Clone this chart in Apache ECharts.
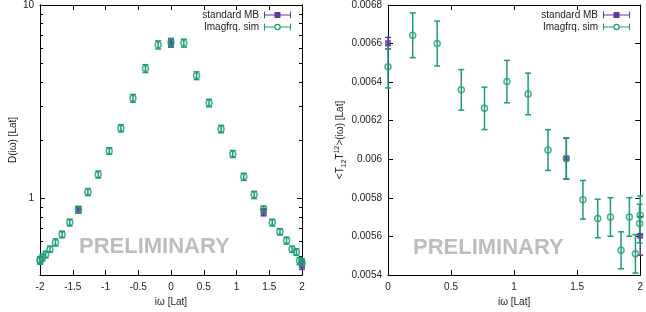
<!DOCTYPE html>
<html>
<head>
<meta charset="utf-8">
<script src="https://cdn.jsdelivr.net/npm/echarts@6/dist/echarts.min.js"></script>
<style>
html, body { margin: 0; padding: 0; background: #fff; }
#chart { width: 646px; height: 312px; }
</style>
</head>
<body>
<div id="chart"></div>
<script>
// left panel: D(iw), full range -2..2
var simW = [-2, -1.995, -1.962, -1.914, -1.848, -1.764, -1.663, -1.546, -1.414, -1.269, -1.111, -0.943, -0.765, -0.581, -0.390, -0.196,
            0, 0.196, 0.390, 0.581, 0.765, 0.943, 1.111, 1.269, 1.414, 1.546, 1.663, 1.764, 1.848, 1.914, 1.962, 1.995, 2];
var simD = [0.475, 0.478, 0.493, 0.511, 0.544, 0.590, 0.649, 0.748, 0.870, 1.076, 1.326, 1.754, 2.30, 3.29, 4.69, 6.22,
            6.40, 6.35, 4.31, 3.11, 2.28, 1.694, 1.29, 1.04, 0.876, 0.748, 0.670, 0.603, 0.544, 0.526, 0.473, 0.466, 0.462];
var simDErr = [0.02, 0.02, 0.02, 0.02, 0.02, 0.025, 0.025, 0.03, 0.035, 0.045, 0.055, 0.07, 0.10, 0.15, 0.22, 0.30,
               0.32, 0.30, 0.20, 0.14, 0.10, 0.07, 0.055, 0.045, 0.035, 0.03, 0.025, 0.025, 0.02, 0.02, 0.02, 0.02, 0.02];
var mbW = [-1.414, 0, 1.414, 2];
var mbD = [0.870, 6.35, 0.845, 0.448];
var mbDErr = [0.035, 0.30, 0.035, 0.02];

// right panel: <T12T12>(iw), 0..2
var simWPos = [0, 0.196, 0.390, 0.581, 0.765, 0.943, 1.111, 1.269, 1.414, 1.546, 1.663, 1.764, 1.848, 1.914, 1.962, 1.995, 2];
var simT = [0.00648, 0.006643, 0.0066, 0.00636, 0.006264, 0.006403, 0.006339, 0.006048, 0.006004, 0.00579, 0.005693,
            0.005701, 0.005528, 0.005701, 0.00551, 0.005667, 0.00571];
var simTErr = [0.00011, 0.000116, 0.000116, 0.000105, 0.00011, 0.00011, 0.000108, 0.000106, 0.000107, 0.0001, 0.0001,
               0.0001, 0.000096, 0.0001, 0.0001, 0.0001, 0.0001];
var mbWPos = [0, 1.414, 2];
var mbT = [0.006602, 0.006004, 0.005603];
var mbTErr = [0.00003, 0.000105, 0.0001];

var logMajor = [1, 10];
var logMinor = [0.4, 0.5, 0.6, 0.7, 0.8, 0.9, 2, 3, 4, 5, 6, 7, 8, 9];

var FONT = '"Liberation Sans", Arial, sans-serif';
var GREEN = '#1b9e77';
var PURPLE = '#5e3c99';

function pts(xs, ys) {
    return xs.map(function (x, i) { return [x, ys[i]]; });
}
function bars(xs, ys, es) {
    return xs.map(function (x, i) { return [x, ys[i] - es[i], ys[i] + es[i]]; });
}

function errRender(color) {
    return function (params, api) {
        var x = api.value(0);
        var a = api.coord([x, api.value(2)]);
        var b = api.coord([x, api.value(1)]);
        var st = { stroke: color, lineWidth: 1.5 };
        var c = 3;
        return {
            type: 'group',
            children: [
                { type: 'line', shape: { x1: a[0], y1: a[1], x2: b[0], y2: b[1] }, style: st },
                { type: 'line', shape: { x1: a[0] - c, y1: a[1], x2: a[0] + c, y2: a[1] }, style: st },
                { type: 'line', shape: { x1: b[0] - c, y1: b[1], x2: b[0] + c, y2: b[1] }, style: st }
            ]
        };
    };
}

function xAx(grid, pos, min, max, name) {
    var bottom = pos === 'bottom';
    return {
        type: 'value', gridIndex: grid, position: pos, min: min, max: max, interval: 0.5,
        axisLine: { show: true, onZero: false, lineStyle: { color: '#000', width: 1 } },
        axisTick: { show: true, inside: true, length: 5, lineStyle: { color: '#000' } },
        axisLabel: { show: bottom, fontSize: 10, color: '#222', margin: 7, fontFamily: FONT },
        splitLine: { show: false },
        name: bottom ? name : '', nameLocation: 'middle', nameGap: 22,
        nameTextStyle: { fontSize: 10, color: '#222', fontFamily: FONT }
    };
}

function logAx(pos, ticks, len, labels, name) {
    return {
        type: 'log', logBase: 10, gridIndex: 0, position: pos, min: 0.4, max: 10,
        axisLine: { show: true, onZero: false, lineStyle: { color: '#000', width: 1 } },
        axisTick: { show: true, inside: true, length: len, customValues: ticks, lineStyle: { color: '#000' } },
        axisLabel: { show: labels, customValues: logMajor, fontSize: 10, color: '#222', margin: 6, fontFamily: FONT },
        splitLine: { show: false },
        name: name || '', nameLocation: 'middle', nameGap: 22,
        nameTextStyle: { fontSize: 10, color: '#222', fontFamily: FONT }
    };
}

function linAx(pos, labels, name) {
    return {
        type: 'value', gridIndex: 1, position: pos, min: 0.0054, max: 0.0068, interval: 0.0002,
        axisLine: { show: true, onZero: false, lineStyle: { color: '#000', width: 1 } },
        axisTick: { show: true, inside: true, length: 5, lineStyle: { color: '#000' } },
        axisLabel: { show: labels, fontSize: 10, color: '#222', margin: 6, fontFamily: FONT },
        splitLine: { show: false },
        name: name || '', nameLocation: 'middle', nameGap: 39,
        nameTextStyle: {
            fontSize: 10, color: '#222', fontFamily: FONT,
            rich: {
                a: { fontSize: 10, fontFamily: FONT, color: '#222', lineHeight: 14, verticalAlign: 'middle' },
                sub: { fontSize: 7, fontFamily: FONT, color: '#222', lineHeight: 14, verticalAlign: 'bottom' },
                sup: { fontSize: 7, fontFamily: FONT, color: '#222', lineHeight: 14, verticalAlign: 'top' }
            }
        }
    };
}

var iconMB = 'path://M0 3H27V4H0Z M0 0H1V7H0Z M26 0H27V7H26Z M10.5 0.5H16.5V6.5H10.5Z';
var iconSim = 'path://M0 3H10.5V4H0Z M16.5 3H27V4H16.5Z M0 0H1V7H0Z M26 0H27V7H26Z ' +
    'M16.75 3.5A3.25 3.25 0 1 1 10.25 3.5A3.25 3.25 0 1 1 16.75 3.5Z ' +
    'M15.5 3.5A2 2 0 1 0 11.5 3.5A2 2 0 1 0 15.5 3.5Z';

function legendAt(right) {
    return {
        orient: 'vertical', align: 'right', right: right, top: 10, padding: 0,
        itemWidth: 27, itemHeight: 7, itemGap: 2,
        textStyle: { fontSize: 10, color: '#222', fontFamily: FONT, lineHeight: 7 },
        selectedMode: false,
        data: [
            { name: 'standard MB', icon: iconMB, itemStyle: { color: PURPLE, borderWidth: 0 } },
            { name: 'Imagfrq. sim', icon: iconSim, itemStyle: { color: GREEN, borderWidth: 0 } }
        ]
    };
}

var chart = echarts.init(document.getElementById('chart'));

var option = {
    animation: false,
    backgroundColor: '#fff',
    grid: [
        { left: 40, top: 5, width: 262, height: 271 },
        { left: 388, top: 5, width: 254, height: 271 }
    ],
    legend: [legendAt(355), legendAt(16)],
    xAxis: [
        xAx(0, 'bottom', -2, 2, 'iω [Lat]'),
        xAx(0, 'top', -2, 2),
        xAx(1, 'bottom', 0, 2, 'iω [Lat]'),
        xAx(1, 'top', 0, 2)
    ],
    yAxis: [
        logAx('left', logMajor, 5, true, 'D(iω) [Lat]'),
        logAx('right', logMajor, 5, false),
        logAx('left', logMinor, 3, false),
        logAx('right', logMinor, 3, false),
        linAx('left', true, '{a|<T}{sub|12}{a|T}{sup|12}{a|>(iω) [Lat]}'),
        linAx('right', false)
    ],
    graphic: [
        { type: 'text', left: 79, top: 236, style: { text: 'PRELIMINARY', font: 'bold 22px ' + FONT, fill: '#bdbdbd' } },
        { type: 'text', left: 413, top: 237, style: { text: 'PRELIMINARY', font: 'bold 22px ' + FONT, fill: '#bdbdbd' } }
    ],
    series: [
        { name: 'standard MB', type: 'custom', xAxisIndex: 0, yAxisIndex: 0, renderItem: errRender(PURPLE),
          encode: { x: 0, y: [1, 2] }, data: bars(mbW, mbD, mbDErr) },
        { name: 'standard MB', type: 'scatter', xAxisIndex: 0, yAxisIndex: 0, symbol: 'rect', symbolSize: 6,
          itemStyle: { color: PURPLE }, data: pts(mbW, mbD) },
        { name: 'Imagfrq. sim', type: 'custom', xAxisIndex: 0, yAxisIndex: 0, renderItem: errRender(GREEN),
          encode: { x: 0, y: [1, 2] }, data: bars(simW, simD, simDErr) },
        { name: 'Imagfrq. sim', type: 'scatter', xAxisIndex: 0, yAxisIndex: 0, symbol: 'circle', symbolSize: 6,
          itemStyle: { color: 'rgba(255,255,255,0)', borderColor: GREEN, borderWidth: 1.5 }, data: pts(simW, simD) },

        { name: 'standard MB', type: 'custom', xAxisIndex: 2, yAxisIndex: 4, renderItem: errRender(PURPLE),
          encode: { x: 0, y: [1, 2] }, data: bars(mbWPos, mbT, mbTErr) },
        { name: 'standard MB', type: 'scatter', xAxisIndex: 2, yAxisIndex: 4, symbol: 'rect', symbolSize: 6,
          itemStyle: { color: PURPLE }, data: pts(mbWPos, mbT) },
        { name: 'Imagfrq. sim', type: 'custom', xAxisIndex: 2, yAxisIndex: 4, renderItem: errRender(GREEN),
          encode: { x: 0, y: [1, 2] }, data: bars(simWPos, simT, simTErr) },
        { name: 'Imagfrq. sim', type: 'scatter', xAxisIndex: 2, yAxisIndex: 4, symbol: 'circle', symbolSize: 6,
          itemStyle: { color: 'rgba(255,255,255,0)', borderColor: GREEN, borderWidth: 1.5 }, data: pts(simWPos, simT) }
    ]
};

chart.setOption(option);
</script>
</body>
</html>
